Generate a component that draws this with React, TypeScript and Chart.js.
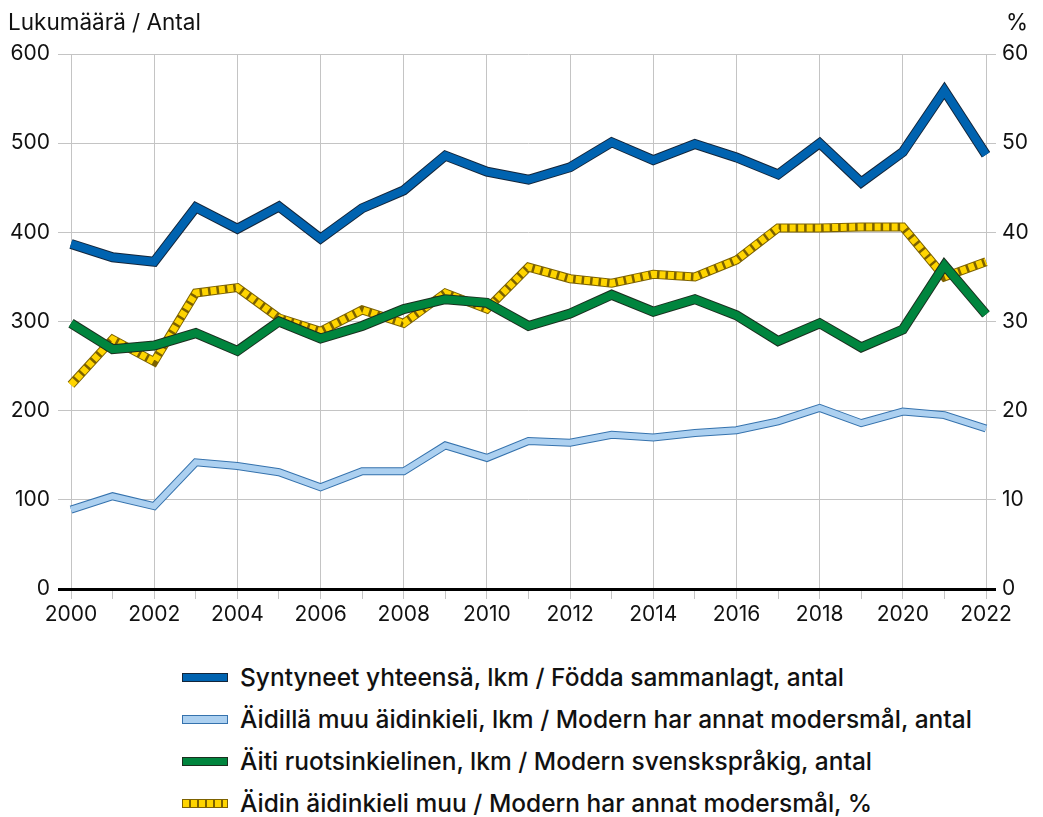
import React, { useEffect, useRef } from "react";
import { Chart, registerables } from "chart.js";
Chart.register(...registerables);

const years = ["2000","2001","2002","2003","2004","2005","2006","2007","2008","2009","2010","2011","2012","2013","2014","2015","2016","2017","2018","2019","2020","2021","2022"];
const totalBirths = [387,372,367,428,404,429,393,427,447,486,468,459,473,501,481,499,484,465,500,456,490,559,487];
const otherLanguageMother = [89,104,93,142,138,131,114,132,132,161,147,166,164,173,170,175,178,188,203,186,199,195,180];
const swedishMother = [298,269,273,287,267,300,281,295,314,325,321,295,309,330,311,325,307,278,298,271,291,363,308];
const otherLanguageShare = [22.9,28.0,25.5,33.2,33.8,30.4,28.9,31.3,29.8,33.2,31.4,36.1,34.8,34.3,35.3,35.0,36.9,40.5,40.5,40.6,40.6,35.0,36.7];

const seriesLabels = [
  "Syntyneet yhteensä, lkm / Födda sammanlagt, antal",
  "Äidillä muu äidinkieli, lkm / Modern har annat modersmål, antal",
  "Äiti ruotsinkielinen, lkm / Modern svenskspråkig, antal",
  "Äidin äidinkieli muu / Modern har annat modersmål, %",
];
const leftTitle = "Lukumäärä / Antal";
const rightTitle = "%";

const FONT = "Inter, 'Noto Sans', sans-serif";
const GRID = "#c4c4c4";

function line(label: string, data: number[], color: string, width: number, axis: string, order: number, dash?: number[]) {
  return {
    label,
    data,
    borderColor: color,
    backgroundColor: color,
    borderWidth: width,
    yAxisID: axis,
    order,
    pointRadius: 0,
    pointHoverRadius: 0,
    tension: 0,
    fill: false,
    borderJoinStyle: "miter" as const,
    borderCapStyle: "butt" as const,
    borderDash: dash || [],
  };
}

const swatches: React.CSSProperties[] = [
  { background: "#0063b0", border: "1px solid #13253a" },
  { background: "#acd0f0", border: "1px solid #3572ad" },
  { background: "#00853e", border: "1px solid #1b2f1f" },
  { background: "repeating-linear-gradient(90deg, #ffd500 0px, #ffd500 6px, #7d6200 6px, #7d6200 8px)", border: "1px solid #7d6200" },
];

export default function App() {
  const ref = useRef<HTMLCanvasElement>(null);
  useEffect(() => {
    if (!ref.current) return;
    const chart = new Chart(ref.current, {
      type: "line",
      data: {
        labels: years,
        datasets: [
          line(seriesLabels[0], totalBirths, "#0063b0", 8, "y", 0),
          line("o0", totalBirths, "#13253a", 10, "y", 1),
          line(seriesLabels[1], otherLanguageMother, "#acd0f0", 6, "y", 2),
          line("o1", otherLanguageMother, "#3572ad", 8, "y", 3),
          line(seriesLabels[2], swedishMother, "#00853e", 8, "y", 4),
          line("o2", swedishMother, "#1b2f1f", 10, "y", 5),
          line(seriesLabels[3], otherLanguageShare, "#ffd500", 7, "y1", 6, [6, 2.5]),
          line("o3", otherLanguageShare, "#7d6200", 9, "y1", 7),
        ] as any,
      },
      options: {
        animation: false,
        responsive: false,
        devicePixelRatio: 1,
        events: [],
        layout: { padding: { top: 54, left: 0, right: 0, bottom: 0 } },
        plugins: { legend: { display: false }, tooltip: { enabled: false }, title: { display: false } },
        scales: {
          x: {
            type: "category",
            offset: false,
            border: { display: false },
            grid: {
              color: (ctx: any) => (ctx.index % 2 === 0 ? GRID : "rgba(0,0,0,0)"),
              tickColor: GRID,
              tickLength: 10,
              lineWidth: 1,
            },
            ticks: {
              autoSkip: false,
              maxRotation: 0,
              minRotation: 0,
              padding: 3,
              color: "#111",
              font: { family: FONT, size: 21 },
              callback: (_v: any, i: number) => (i % 2 === 0 ? years[i] : ""),
            },
            afterFit: (s: any) => { s.height = 51; },
          },
          y: {
            position: "left",
            min: 0,
            max: 600,
            border: { display: false },
            grid: {
              color: (ctx: any) => (ctx.tick && ctx.tick.value === 0 ? "#000" : GRID),
              tickColor: (ctx: any) => (ctx.tick && ctx.tick.value === 0 ? "#000" : GRID),
              lineWidth: (ctx: any) => (ctx.tick && ctx.tick.value === 0 ? 3 : 1),
              tickLength: 13,
            },
            ticks: { stepSize: 100, padding: 8, color: "#111", font: { family: FONT, size: 21 } },
            afterFit: (s: any) => { s.width = 71; },
          },
          y1: {
            position: "right",
            min: 0,
            max: 60,
            border: { display: false },
            grid: {
              drawOnChartArea: false,
              color: (ctx: any) => (ctx.tick && ctx.tick.value === 0 ? "#000" : GRID),
              tickColor: (ctx: any) => (ctx.tick && ctx.tick.value === 0 ? "#000" : GRID),
              lineWidth: (ctx: any) => (ctx.tick && ctx.tick.value === 0 ? 3 : 1),
              tickLength: 10,
            },
            ticks: { stepSize: 10, padding: 6, color: "#111", font: { family: FONT, size: 21 } },
            afterFit: (s: any) => { s.width = 57; },
          },
        },
      } as any,
    });
    return () => chart.destroy();
  }, []);

  return (
    <div style={{ position: "absolute", left: 0, top: 0, width: 1043, height: 817, background: "#fff", fontFamily: FONT, color: "#111" }}>
      <canvas ref={ref} width={1043} height={640} style={{ position: "absolute", left: 0, top: 0, width: 1043, height: 640 }} />
      <div style={{ position: "absolute", left: 8, top: 8, fontSize: 22.5, lineHeight: "28px" }}>{leftTitle}</div>
      <div style={{ position: "absolute", left: 1006, top: 8, fontSize: 22.5, lineHeight: "28px" }}>{rightTitle}</div>
      <div style={{ position: "absolute", left: 182, top: 656 }}>
        {seriesLabels.map((l, i) => (
          <div key={i} style={{ display: "flex", alignItems: "center", height: 42 }}>
            <div style={{ width: 44, height: 7, boxSizing: "content-box", ...swatches[i] }} />
            <div style={{ marginLeft: 12, fontSize: 24.5, fontWeight: 500, whiteSpace: "nowrap" }}>{l}</div>
          </div>
        ))}
      </div>
    </div>
  );
}
